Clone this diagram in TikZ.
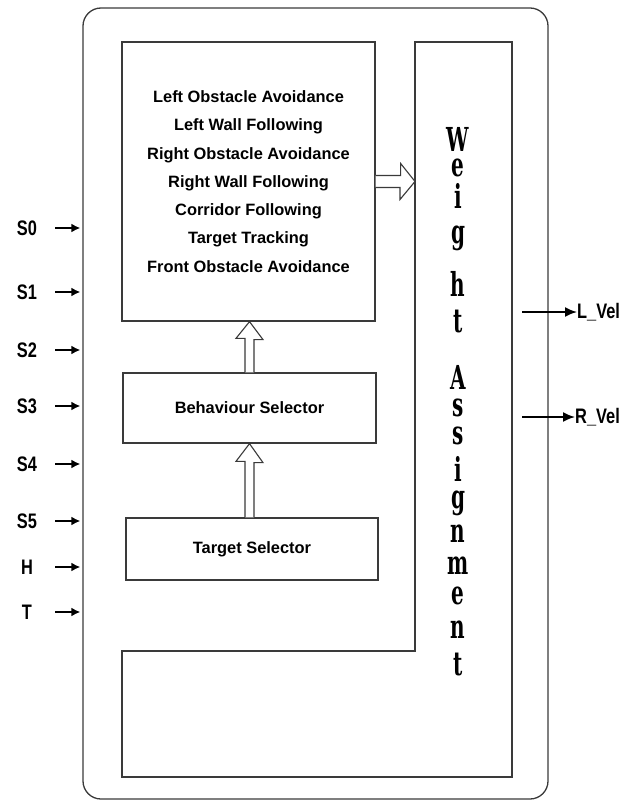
\documentclass[tikz,border=0pt]{standalone}
\usepackage{fontspec}
\usepackage{graphicx}
\usetikzlibrary{arrows.meta,calc}
\setmainfont{Liberation Sans}
\newfontfamily\serifwa{DejaVu Serif}
\newcommand{\condensed}[1]{\scalebox{0.78}[1]{#1}}
\newcommand{\tallglyph}[1]{\scalebox{1}[1.65]{#1}}
\definecolor{linecol}{HTML}{3A3A3A}

\begin{document}
\begin{tikzpicture}[x=1pt,y=-1pt,>=Latex,
  box/.style={draw=linecol,line width=1.3pt,inner sep=0pt},
  boxtext/.style={font=\fontsize{16.4}{28.3}\selectfont\bfseries,align=center},
  hollow/.style={draw=linecol,line width=1.1pt,fill=white,line join=miter},
  inlabel/.style={font=\fontsize{21}{24}\selectfont\bfseries,inner sep=0pt},
  inarrow/.style={-{Latex[length=9pt,width=9pt]},line width=2.2pt,shorten >=2pt},
  outarrow/.style={-{Latex[length=12pt,width=10pt]},line width=1.8pt},
  wletter/.style={font=\fontsize{20}{24}\serifwa\bfseries,inner sep=0pt}]
  \useasboundingbox (0,0) rectangle (638,802);
%%
  % Node: frame
  \node[box,rounded corners=18pt,minimum width=465pt,minimum height=791pt] (frame) at (315.5,403.5) {};
  % Node: behaviours
  \node[box,boxtext,minimum width=253pt,minimum height=279pt] (beh) at (248.5,181.5)
    {Left Obstacle Avoidance\\Left Wall Following\\Right Obstacle Avoidance\\Right Wall Following\\Corridor Following\\Target Tracking\\Front Obstacle Avoidance};
  % Node: behaviour selector
  \node[box,boxtext,minimum width=253pt,minimum height=70pt] (bsel) at (249.5,408) {Behaviour Selector};
  % Node: target selector
  \node[box,boxtext,minimum width=252pt,minimum height=62pt] (tsel) at (252,549) {Target Selector};
  % Node: weight assignment
  \draw[box] (415,42) -- (512,42) -- (512,777) -- (122,777) -- (122,651) -- (415,651) -- cycle;
  \coordinate (wa) at (415,181.5);
  \foreach \ch/\yy [count=\i] in {W/139,e/168,i/196,g/238,h/284,t/322,A/377,s/408,s/436,i/469,g/503,n/534,m/566,e/596,n/630,t/665}
    \node[wletter] (wl\i) at (458,\yy) {\tallglyph{\ch}};
  % Edge: behaviour selector -> behaviours
  \draw[hollow] ($(bsel.north)+(-4.5,0)$) -- ++(0,-34) -- ++(-9,0) -- (beh.south -| bsel.north)
    -- ++(13.5,18) -- ++(-9,0) -- ($(bsel.north)+(4.5,0)$);
  % Edge: target selector -> behaviour selector
  \draw[hollow] ($(bsel.south |- tsel.north)+(-4.5,0)$) -- ++(0,-56) -- ++(-9,0) -- (bsel.south)
    -- ++(13.5,19) -- ++(-9,0) -- ($(bsel.south |- tsel.north)+(4.5,0)$);
  % Edge: behaviours -> weight assignment
  \draw[hollow] ($(beh.east)+(0,-6)$) -- ++(25,0) -- ++(0,-12) -- (wa)
    -- ++(-15,18) -- ++(0,-12) -- ($(beh.east)+(0,6)$);
  % Inputs
  \foreach \lbl/\yy [count=\i] in {S0/228,S1/292,S2/350,S3/406,S4/464,S5/521,H/567,T/612}{
    \node[inlabel] (in\i) at (27,\yy) {\condensed{\lbl}};
    \draw[inarrow] ([xshift=28pt]in\i.center) -- (in\i -| frame.west);
  }
  % Outputs
  \coordinate (lvstart) at (522,312);
  \coordinate (rvstart) at (522,417);
  \node[inlabel,anchor=west] (lvel) at (577,312) {\condensed{L\_Vel}};
  \node[inlabel,anchor=west] (rvel) at (575,417) {\condensed{R\_Vel}};
  \draw[outarrow] (lvstart) -- (lvel.west);
  \draw[outarrow] (rvstart) -- (rvel.west);
%
\end{tikzpicture}
\end{document}
